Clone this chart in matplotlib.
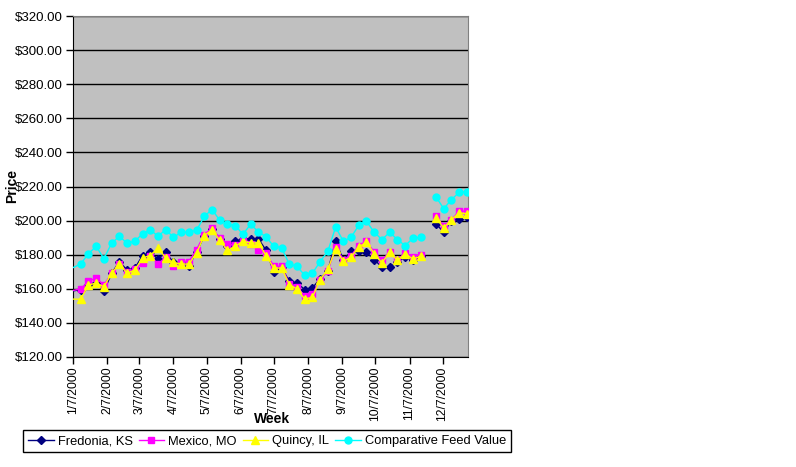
import numpy as np
import pandas as pd
import matplotlib
matplotlib.use('Agg')
import matplotlib.pyplot as plt
import matplotlib.dates as mdates
from matplotlib.ticker import MultipleLocator, FuncFormatter

plt.rcParams['font.family'] = ['Liberation Sans', 'DejaVu Sans']

nan = np.nan

# weekly prices; first value sits before the axis start (clipped), week of 11/24 missing
dates = [pd.Timestamp('1999-12-31')] + list(pd.date_range('2000-01-14', periods=51, freq='7D'))

fredonia = [158, 159.5, 162, 163.4, 158.7, 169, 175.9, 171, 172, 179.5, 181.4,
            177.5, 181.4, 175.5, 175, 173.6, 181.5, 191, 195, 189, 185,
            187.9, 189.3, 189.3, 189.3, 182.6, 169.7, 172.5, 164.4, 163.5, 159.5,
            160.5, 166, 170.5, 187.9, 177, 182.0, 182.0, 181.4, 177.1, 172.8,
            172.8, 175.5, 178.7, 176.6, 179, nan, 198.2, 193.1, 200, 201.0, 202.2]
mexico = [158, 160, 164.4, 166.3, 162.2, 169.1, 174.5, 170.1, 171.5, 175.2, 179.5,
          174.5, 178.5, 173.6, 176.0, 176.0, 183.0, 191.8, 195.7, 189.8, 186.5,
          185.9, 187.9, 186.3, 182.6, 181, 173.2, 173.2, 163.0, 161.1, 155.6,
          156.8, 165.4, 170.3, 184.6, 177.1, 179.5, 185.3, 187.9, 181.4, 177.1,
          181.4, 177.1, 181.0, 178.7, 180.1, nan, 202.9, 196.7, 200.5, 205.5, 205.5]
quincy = [154, 153.9, 162.2, 163.4, 161.2, 169.1, 174.5, 169.1, 171.0, 178.1, 179.5,
          184.0, 178.1, 175.5, 174.5, 174.5, 181.0, 191.2, 194.7, 188.4, 182.6,
          184.9, 187.9, 186.9, 186.9, 179.5, 172.2, 172.2, 162.5, 159.9, 154.0,
          155.0, 165.4, 171.5, 183.4, 176.1, 178.5, 184.6, 187.3, 180.6, 175.2,
          181.4, 176.6, 180.6, 177.5, 179.1, nan, 201.6, 195.7, 200.6, 204.5, 204.1]
feed_value = [170.2, 174.6, 180.6, 184.9, 177.7, 186.7, 190.8, 186.7, 187.9, 192.2, 194.7,
              190.8, 194.7, 190.2, 193.1, 193.4, 194.3, 202.5, 206.5, 200.2, 197.8,
              197.1, 192.0, 197.8, 193.5, 190.4, 184.9, 184.2, 174.4, 173.2, 167.9,
              169.1, 176.0, 182.0, 196.2, 187.9, 190.2, 197.2, 199.6, 193.1, 188.9,
              193.1, 188.9, 185.3, 189.6, 190.2, nan, 213.9, 207.0, 212.3, 216.6, 217.0]

series = [
    ('Fredonia, KS', fredonia, '#000080', 'D', 4.2),
    ('Mexico, MO', mexico, '#FF00FF', 's', 4.6),
    ('Quincy, IL', quincy, '#FFFF00', '^', 5.6),
    ('Comparative Feed Value', feed_value, '#00FFFF', 'o', 5.0),
]

fig = plt.figure(figsize=(7.96, 4.67), dpi=100)
ax = fig.add_axes([73 / 796, 1 - 357 / 467, 395 / 796, 341 / 467])
ax.set_facecolor('#C0C0C0')

for i, (name, vals, col, mk, ms) in enumerate(series):
    ax.plot(dates, vals, color=col, lw=1.0, marker=mk, markersize=ms,
            markerfacecolor=col, markeredgecolor=col, label=name, zorder=3 + i)

ax.set_ylim(120, 320)
ax.yaxis.set_major_locator(MultipleLocator(20))
ax.yaxis.set_major_formatter(FuncFormatter(lambda v, p: '${:.2f}'.format(v)))
ax.grid(axis='y', color='black', lw=1.0, zorder=1)
ax.set_axisbelow(True)

ax.set_xlim(pd.Timestamp('2000-01-07'), pd.Timestamp('2000-12-30'))
ax.xaxis.set_major_locator(mdates.MonthLocator(bymonthday=7))
ax.xaxis.set_major_formatter(FuncFormatter(
    lambda v, p: '{d.month}/{d.day}/{d.year}'.format(d=mdates.num2date(v))))

ax.tick_params(axis='both', direction='out', length=5, width=1, color='black', pad=2)
ax.tick_params(axis='y', labelsize=9.5)
ax.tick_params(axis='x', labelsize=8.8, labelrotation=90)
for s in ['left', 'bottom']:
    ax.spines[s].set_color('black')
for s in ['right', 'top']:
    ax.spines[s].set_color('#808080')

fig.text(12 / 796, 1 - 186 / 467, 'Price', rotation=90, ha='center', va='center',
         fontsize=10, fontweight='bold')
fig.text(272 / 796, 1 - 419 / 467, 'Week', ha='center', va='center',
         fontsize=10, fontweight='bold')

leg = fig.legend(loc='center', bbox_to_anchor=(267 / 796, 1 - 441 / 467), ncol=4,
                 fontsize=9.3, frameon=True, fancybox=False, framealpha=1,
                 edgecolor='black', handlelength=2.0, handletextpad=0.3,
                 columnspacing=0.45, borderpad=0.35)
leg.get_frame().set_linewidth(1.0)

fig.savefig('out.png', dpi=100)
